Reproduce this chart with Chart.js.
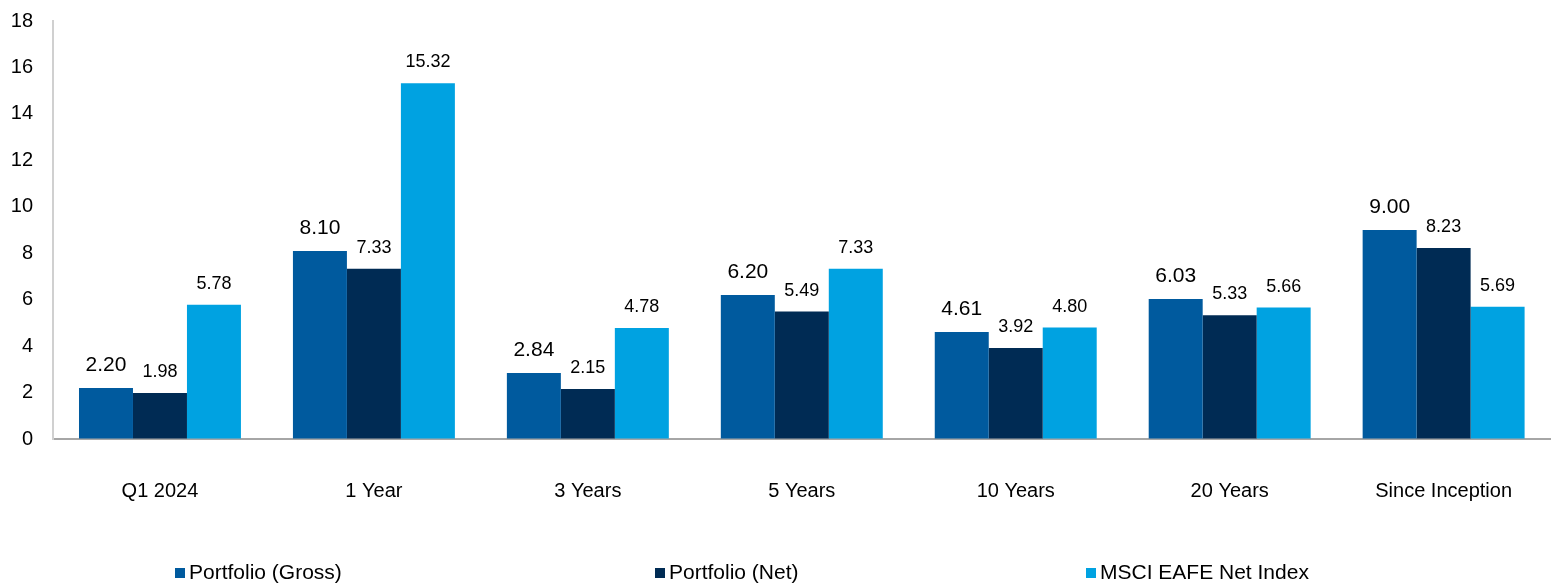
<!DOCTYPE html>
<html>
<head>
<meta charset="utf-8">
<script src="https://cdn.jsdelivr.net/npm/chart.js@4/dist/chart.umd.min.js"></script>
<style>
  html, body { margin: 0; padding: 0; background: #fff; }
  #wrap { position: relative; width: 1552px; height: 585px; }
  canvas { position: absolute; left: 0; top: 0; }
  .lg { position: absolute; top: 561px; font-family: Arial, "Liberation Sans", sans-serif; font-size: 21px; color: #000; white-space: nowrap; line-height: 22px; }
  .lg span.sq { display: inline-block; width: 10px; height: 10px; margin-right: 4px; vertical-align: 1px; }
</style>
</head>
<body>
<div id="wrap">
  <canvas id="c" width="1552" height="585"></canvas>
  <div class="lg" style="left:175px"><span class="sq" style="background:#005A9E"></span>Portfolio (Gross)</div>
  <div class="lg" style="left:655px"><span class="sq" style="background:#002B54"></span>Portfolio (Net)</div>
  <div class="lg" style="left:1086px"><span class="sq" style="background:#00A2E1"></span>MSCI EAFE Net Index</div>
</div>
<script>
const categories = ["Q1 2024", "1 Year", "3 Years", "5 Years", "10 Years", "20 Years", "Since Inception"];
const gross = [2.20, 8.10, 2.84, 6.20, 4.61, 6.03, 9.00];
const net = [1.98, 7.33, 2.15, 5.49, 3.92, 5.33, 8.23];
const msci = [5.78, 15.32, 4.78, 7.33, 4.80, 5.66, 5.69];
const seriesNames = ["Portfolio (Gross)", "Portfolio (Net)", "MSCI EAFE Net Index"];
const colors = ["#005A9E", "#002B54", "#00A2E1"];
const yTicks = [0, 2, 4, 6, 8, 10, 12, 14, 16, 18];

const FONT = 'Arial, "Liberation Sans", sans-serif';

const labelPlugin = {
  id: 'valueLabels',
  afterDatasetsDraw(chart) {
    const ctx = chart.ctx;
    ctx.save();
    ctx.fillStyle = '#000';
    ctx.textAlign = 'center';
    ctx.textBaseline = 'alphabetic';
    chart.data.datasets.forEach((ds, di) => {
      const meta = chart.getDatasetMeta(di);
      const size = di === 0 ? 21 : 18;
      const gap = di === 0 ? 17 : 16;
      ctx.font = size + 'px ' + FONT;
      meta.data.forEach((bar, i) => {
        ctx.fillText(ds.data[i].toFixed(2), bar.x, bar.y - gap);
      });
    });
    ctx.restore();
  }
};

new Chart(document.getElementById('c'), {
  type: 'bar',
  data: {
    labels: categories,
    datasets: [
      { label: seriesNames[0], data: gross, backgroundColor: colors[0] },
      { label: seriesNames[1], data: net, backgroundColor: colors[1] },
      { label: seriesNames[2], data: msci, backgroundColor: colors[2] }
    ]
  },
  options: {
    responsive: false,
    animation: false,
    devicePixelRatio: 1,
    layout: { padding: { top: 21, right: 0, left: 0, bottom: 0 } },
    datasets: { bar: { categoryPercentage: 0.757, barPercentage: 1.0 } },
    plugins: { legend: { display: false }, tooltip: { enabled: false } },
    scales: {
      x: {
        grid: { display: false, drawTicks: false },
        border: { display: true, color: '#a6a6a6', width: 2 },
        ticks: { color: '#000', font: { family: FONT, size: 20 }, padding: 40, maxRotation: 0 },
        afterFit(scale) { scale.height = 146; }
      },
      y: {
        min: 0, max: 18,
        afterBuildTicks(scale) { scale.ticks = yTicks.map(v => ({ value: v })); },
        grid: { display: true, drawOnChartArea: false, drawTicks: true, tickLength: 12, color: 'rgba(0,0,0,0)' },
        border: { display: true, color: '#d0d0d0', width: 2 },
        ticks: { color: '#000', font: { family: FONT, size: 20 }, padding: 8 },
        afterFit(scale) { scale.width = 53; }
      }
    }
  },
  plugins: [labelPlugin]
});
</script>
</body>
</html>
